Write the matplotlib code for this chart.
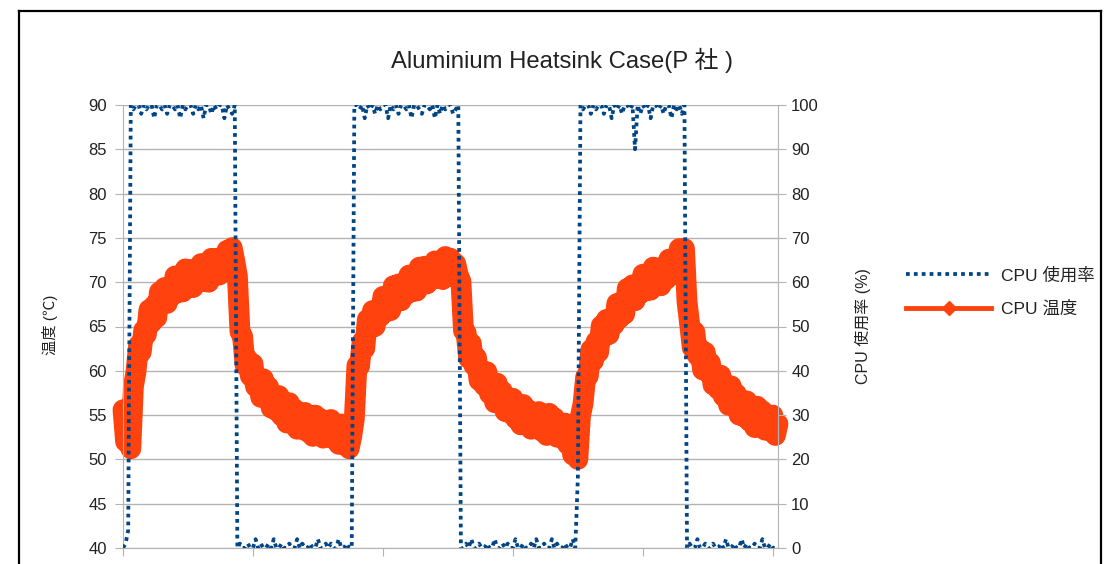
import numpy as np
import matplotlib
matplotlib.use('Agg')
import matplotlib.pyplot as plt
from matplotlib.lines import Line2D

plt.rcParams['font.family'] = ['Liberation Sans', 'Noto Sans CJK JP', 'DejaVu Sans']

# sample time (s), one sample every 5 s
sec = np.arange(0, 1265, 5)

# cpu temperature (deg C)
temp = [55.6, 52.0, 54.5, 51.2, 58.2, 59.9, 62.9, 62.1, 64.6, 64.1,
        66.9, 65.4, 67.4, 66.0, 68.9, 67.5, 69.4, 67.6, 69.4, 68.5,
        70.7, 68.8, 70.5, 68.9, 71.5, 69.8, 71.4, 69.4, 71.1, 70.0,
        72.1, 70.1, 71.7, 70.0, 72.7, 71.0, 72.7, 70.8, 72.4, 71.4,
        73.6, 71.7, 73.9, 72.4, 70.7, 64.4, 63.9, 60.6, 61.3, 59.4,
        60.8, 58.2, 59.2, 57.0, 59.1, 57.0, 58.2, 55.8, 57.0, 55.5,
        57.2, 54.9, 56.1, 54.1, 56.4, 54.4, 55.7, 53.4, 54.7, 53.4,
        55.3, 53.1, 54.5, 52.6, 55.0, 53.1, 54.6, 52.4, 53.9, 52.6,
        54.5, 52.3, 53.6, 51.7, 54.0, 52.1, 53.5, 51.2, 52.6, 54.6,
        60.6, 60.5, 63.3, 62.5, 65.8, 64.7, 66.8, 65.0, 66.9, 66.1,
        68.4, 66.6, 68.4, 66.8, 69.6, 68.1, 69.8, 67.9, 69.6, 68.6,
        70.8, 68.9, 70.6, 69.0, 71.7, 70.1, 71.8, 69.8, 71.4, 70.3,
        72.4, 70.4, 72.0, 70.3, 72.9, 71.1, 72.7, 70.6, 72.1, 70.8,
        70.1, 64.5, 64.3, 61.4, 63.1, 60.6, 61.5, 58.9, 59.9, 58.3,
        59.9, 57.4, 58.5, 56.4, 58.6, 56.5, 57.7, 55.4, 56.6, 55.2,
        56.9, 54.6, 55.9, 53.9, 56.2, 54.3, 55.6, 53.4, 54.8, 53.5,
        55.4, 53.2, 54.6, 52.7, 55.2, 53.3, 54.7, 52.5, 53.8, 52.4,
        54.1, 51.7, 52.8, 50.5, 52.4, 50.0, 54.9, 56.3, 59.3, 59.4,
        62.4, 61.1, 63.3, 62.1, 65.1, 63.8, 65.8, 64.1, 66.0, 65.2,
        67.6, 65.9, 67.8, 66.4, 69.3, 67.8, 69.7, 67.9, 69.7, 68.7,
        70.9, 69.0, 70.7, 69.1, 71.7, 70.0, 71.6, 69.6, 71.3, 70.3,
        72.6, 70.8, 72.6, 71.1, 73.8, 72.2, 73.8, 67.8, 65.3, 62.6,
        64.4, 61.7, 62.5, 60.1, 62.1, 59.8, 60.9, 58.4, 59.5, 57.9,
        59.5, 57.1, 58.2, 56.1, 58.3, 56.2, 57.4, 55.0, 56.3, 54.8,
        56.6, 54.3, 55.6, 53.6, 56.0, 54.1, 55.5, 53.3, 54.6, 53.2,
        55.0, 52.7, 54.0]

# cpu usage (%), load on / idle blocks
cpu_start = [0, 1, 4]
cpu_on1 = [100, 99, 100, 100, 98, 100, 99, 100, 100, 97,
           100, 100, 99, 100, 98, 100, 100, 99, 100, 97,
           100, 99, 100, 100, 98, 100, 99, 100, 97, 100,
           100, 98, 100, 99, 100, 100, 97, 100, 99, 98,
           100]
cpu_off1 = [0, 1, 0, 0, 1, 0, 0, 2, 0, 1,
            0, 0, 1, 0, 2, 0, 0, 1, 0, 0,
            1, 0, 0, 2, 0, 1, 0, 0, 1, 0,
            0, 2, 0, 0, 1, 0, 1, 0, 0, 2,
            0, 0, 1, 0, 0]
cpu_on2 = [100, 100, 99, 100, 97, 100, 99, 100, 98, 100,
           99, 100, 100, 97, 100, 99, 100, 98, 100, 100,
           99, 100, 97, 100, 100, 99, 98, 100, 100, 99,
           100, 97, 100, 98, 100, 99, 100, 100, 98, 99,
           100]
cpu_off2 = [0, 0, 1, 0, 2, 0, 0, 1, 0, 0,
            1, 0, 0, 2, 0, 0, 1, 0, 1, 0,
            0, 2, 0, 0, 1, 0, 0, 1, 0, 2,
            0, 0, 1, 0, 0, 2, 0, 1, 0, 0,
            1, 0, 0, 2, 0]
cpu_ramp = [16]
cpu_on3 = [100, 99, 100, 100, 98, 100, 99, 100, 100, 98,
           100, 100, 97, 100, 99, 100, 98, 100, 100, 99,
           100, 90, 100, 98, 100, 99, 100, 97, 100, 100,
           99, 100, 98, 100, 100, 97, 100, 99, 100, 98,
           100]
cpu_off3 = [0, 1, 0, 0, 2, 0, 0, 1, 0, 0,
            1, 0, 0, 1, 0, 2, 0, 0, 1, 0,
            0, 2, 0, 1, 0, 0, 1, 0, 0, 2,
            0, 0, 1, 0, 0, 0]
cpu = (cpu_start + cpu_on1 + cpu_off1 + cpu_on2 + cpu_off2
       + cpu_ramp + cpu_on3 + cpu_off3)

blue = '#004586'
orange = '#ff420e'
grey = '#b3b3b3'
txt = '#222222'

W, H = 1108, 564
fig = plt.figure(figsize=(W / 100, H / 100), dpi=100)

ax = fig.add_axes([123 / W, 1 - 548 / H, (778 - 123) / W, (548 - 105) / H])
ax2 = ax.twinx()

# thick line + diamonds so the dense samples read as one band
ax.plot(sec, temp, color=orange, lw=15, marker='D', ms=9, mec=orange,
        mfc=orange, solid_joinstyle='round', solid_capstyle='round',
        clip_on=False)
ax2.plot(sec, cpu, color=blue, lw=2.7, dashes=(1, 1.1))

ax.set_xlim(0, 1260)
ax.set_ylim(40, 90)
ax2.set_ylim(0, 100)
ax.set_xticks(range(0, 1251, 250))
ax.set_xticklabels([])
ax.set_yticks(range(40, 91, 5))
ax2.set_yticks(range(0, 101, 10))

ax.yaxis.grid(True, color=grey, lw=1)
ax.set_axisbelow(True)

for a in (ax, ax2):
    for s in a.spines.values():
        s.set_color(grey)
    a.spines['top'].set_visible(False)
ax2.spines['left'].set_visible(False)
ax2.spines['bottom'].set_visible(False)
ax.spines['right'].set_visible(False)

ax.tick_params(axis='y', direction='out', length=6, color=grey, pad=5.5,
               labelsize=12, labelcolor=txt)
ax.tick_params(axis='x', direction='out', length=6, color=grey)
ax2.tick_params(axis='y', direction='out', length=6, color=grey, pad=3.5,
                labelsize=12, labelcolor=txt)

# titles / axis names
fig.text(562 / W, 1 - 60 / H, 'Aluminium Heatsink Case(P 社 )', ha='center',
         va='center', fontsize=17.2, color=txt)
fig.text(50 / W, 1 - 325 / H, '温度 (℃)', rotation=90, ha='center',
         va='center', fontsize=11, color=txt)
fig.text(863 / W, 1 - 326 / H, 'CPU 使用率 (%)', rotation=90, ha='center',
         va='center', fontsize=11.5, color=txt)

# legend proxies (thinner than the plotted band)
h_cpu = Line2D([], [], color=blue, lw=2.7, dashes=(1, 1.1))
h_temp = Line2D([], [], color=orange, lw=3.5, marker='D', ms=7)
fig.legend([h_cpu, h_temp], ['CPU 使用率', 'CPU 温度'], loc='center left',
           bbox_to_anchor=(906 / W, 1 - 292 / H), frameon=False, fontsize=12.5,
           handlelength=4.9, handletextpad=0.6, labelspacing=1.0,
           borderpad=0, borderaxespad=0, labelcolor=txt)

# black frame around the chart
fig.add_artist(Line2D([19 / W, 19 / W], [0, 1 - 11 / H], color='black', lw=1.6))
fig.add_artist(Line2D([19 / W, 1100.5 / W], [1 - 11 / H, 1 - 11 / H], color='black', lw=1.6))
fig.add_artist(Line2D([1100.5 / W, 1100.5 / W], [0, 1 - 11 / H], color='black', lw=1.6))

fig.savefig('out.png', dpi=100)
